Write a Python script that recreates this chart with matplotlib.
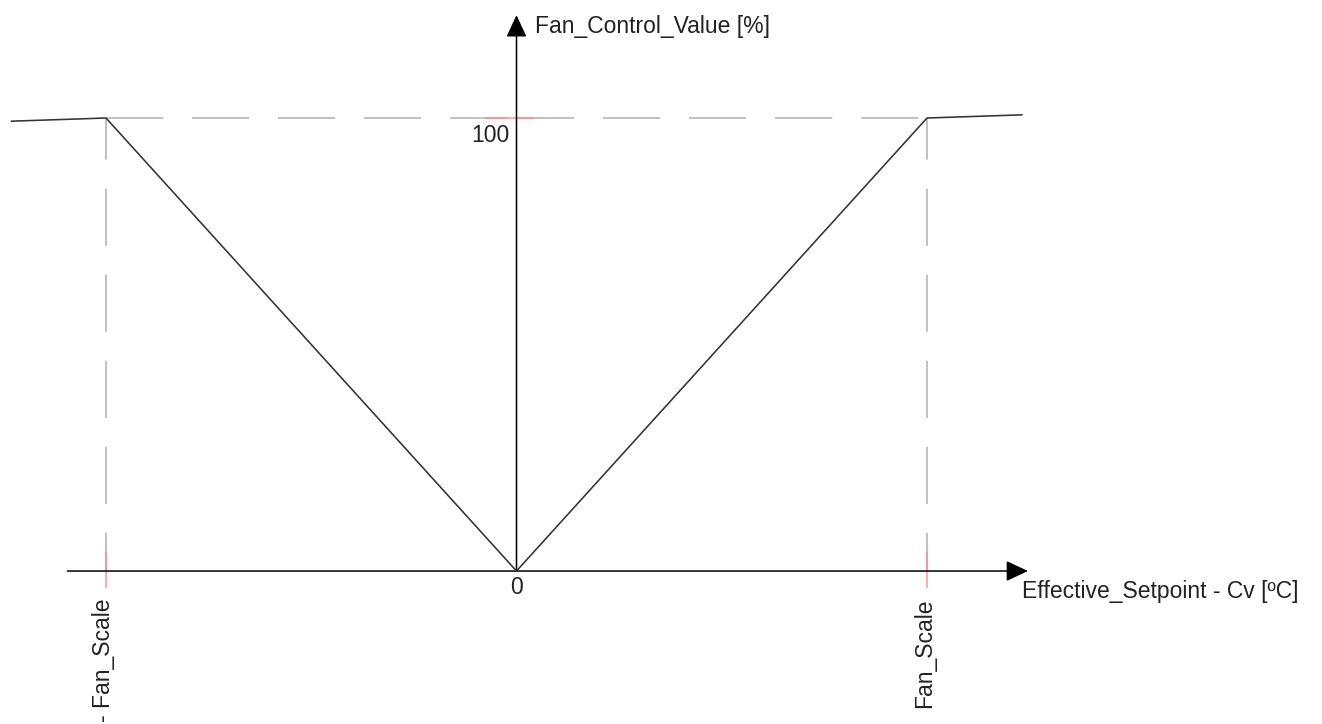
"""Fan control value vs (Effective_Setpoint - Cv): V-shaped characteristic, saturating at 100 %."""
import matplotlib
matplotlib.use("Agg")
import matplotlib.pyplot as plt

plt.rcParams["font.family"] = ["Liberation Sans", "DejaVu Sans"]

# ---- data (x in units of Fan_Scale, y in %) ----
curve_x = [-1.23, -1.0, 0.0, 1.0, 1.231]
curve_y = [99.3, 100.0, 0.0, 100.0, 100.7]
scale_ticks = [-1.0, 1.0]
scale_labels = ["- Fan_Scale", "Fan_Scale"]
y_max = 100
y_label = "Fan_Control_Value [%]"
x_label = "Effective_Setpoint - Cv [ºC]"

fig = plt.figure(figsize=(13.22, 7.24), dpi=100)
ax = fig.add_axes([0, 0, 1, 1])
ax.set_xlim(-516.5 / 410.5, 805.5 / 410.5)
ax.set_ylim(-33.77, 126.05)
ax.axis("off")

GREY = "#c2c2c2"
PINK = "#ff8c8c"
dash = (27.4, 13.9)

# dashed guides at 100 % and at +-Fan_Scale
ax.plot([-1, 0], [y_max, y_max], color=GREY, lw=1.5, ls=(0, dash), zorder=1)
ax.plot([0, 1], [y_max, y_max], color=GREY, lw=1.5, ls=(0, dash), zorder=1)
for xt in scale_ticks:
    ax.plot([xt, xt], [0, y_max], color=GREY, lw=1.5, ls=(9.1, dash), zorder=1)
    ax.plot([xt, xt], [4.0, -3.5], color=PINK, lw=1.5, alpha=0.7, zorder=2)
ax.plot([-0.075, 0.041], [y_max, y_max], color=PINK, lw=1.5, alpha=0.7, zorder=2)

# axes with arrow heads
arr = dict(arrowstyle="-|>,head_length=13.5,head_width=6.3", mutation_scale=1,
           color="black", lw=1.1, shrinkA=0, shrinkB=0)
ax.annotate("", xy=(1.246, 0), xytext=(-1.094, 0), arrowprops=arr, zorder=3)
ax.annotate("", xy=(0, 122.7), xytext=(0, 0), arrowprops=arr, zorder=3)

# characteristic
ax.plot(curve_x, curve_y, color="#333333", lw=1.15, zorder=4)

# labels
fs = 16.5
ax.annotate(y_label, xy=(0, 122.7), xytext=(13, -8), textcoords="offset points",
            ha="left", va="center", fontsize=fs, color="#222222")
ax.annotate(x_label, xy=(1.246, 0), xytext=(-4, -14.5), textcoords="offset points",
            ha="left", va="center", fontsize=fs, color="#222222")
ax.annotate(str(y_max), xy=(0, y_max), xytext=(-5, -12.5), textcoords="offset points",
            ha="right", va="center", fontsize=fs, color="#222222")
ax.annotate("0", xy=(0, 0), xytext=(0, -12), textcoords="offset points",
            ha="center", va="center", fontsize=fs, color="#222222")
for xt, lab in zip(scale_ticks, scale_labels):
    ax.annotate(lab, xy=(xt, 0), xytext=(-1.5, -19.5), textcoords="offset points",
                ha="center", va="top", rotation=90, fontsize=fs, color="#222222")

fig.savefig("out.png", dpi=100)
